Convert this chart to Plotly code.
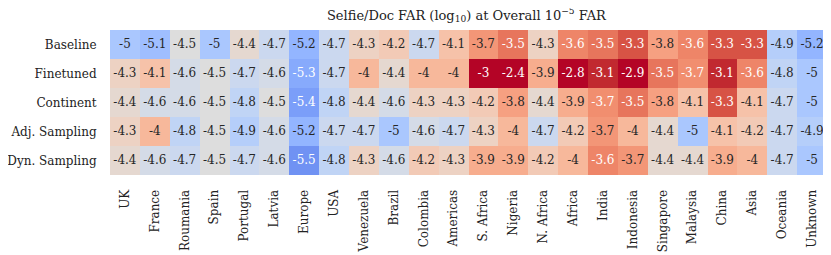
import plotly.graph_objects as go

regions = ["UK", "France", "Roumania", "Spain", "Portugal", "Latvia", "Europe", "USA",
           "Venezuela", "Brazil", "Colombia", "Americas", "S. Africa", "Nigeria", "N. Africa",
           "Africa", "India", "Indonesia", "Singapore", "Malaysia", "China", "Asia",
           "Oceania", "Unknown"]
methods = ["Baseline", "Finetuned", "Continent", "Adj. Sampling", "Dyn. Sampling"]

baseline = [-5.0, -5.1, -4.5, -5.0, -4.4, -4.7, -5.2, -4.7, -4.3, -4.2, -4.7, -4.1,
            -3.72, -3.5, -4.3, -3.6, -3.5, -3.3, -3.8, -3.6, -3.3, -3.3, -4.9, -5.2]
finetuned = [-4.3, -4.1, -4.6, -4.5, -4.7, -4.6, -5.3, -4.7, -4.0, -4.4, -4.0, -4.0,
             -3.0, -2.4, -3.9, -2.8, -3.1, -2.9, -3.5, -3.66, -3.1, -3.6, -4.8, -5.0]
continent = [-4.4, -4.6, -4.6, -4.5, -4.8, -4.5, -5.4, -4.8, -4.4, -4.6, -4.3, -4.3,
             -4.2, -3.8, -4.4, -3.9, -3.66, -3.5, -3.8, -4.1, -3.3, -4.1, -4.7, -5.0]
adj_sampling = [-4.3, -4.0, -4.8, -4.5, -4.9, -4.6, -5.2, -4.7, -4.7, -5.0, -4.6, -4.7,
                -4.3, -4.0, -4.7, -4.2, -3.72, -4.0, -4.4, -5.0, -4.1, -4.2, -4.7, -4.9]
dyn_sampling = [-4.4, -4.6, -4.7, -4.5, -4.7, -4.6, -5.5, -4.8, -4.3, -4.6, -4.2, -4.3,
                -3.9, -3.9, -4.2, -4.0, -3.6, -3.72, -4.4, -4.4, -3.9, -4.0, -4.7, -5.0]

rows = [baseline, finetuned, continent, adj_sampling, dyn_sampling]

coolwarm = [
    (59, 76, 192), (68, 90, 204), (77, 104, 215), (87, 117, 225), (98, 130, 234),
    (108, 142, 241), (119, 154, 247), (130, 165, 251), (141, 176, 254), (152, 185, 255),
    (163, 194, 255), (174, 201, 253), (184, 208, 249), (194, 213, 244), (204, 217, 238),
    (213, 219, 230), (221, 221, 221), (229, 216, 209), (236, 211, 197), (241, 204, 184),
    (245, 196, 172), (247, 187, 159), (247, 177, 147), (247, 166, 134), (244, 154, 123),
    (241, 141, 111), (236, 127, 99), (229, 112, 89), (222, 96, 77), (213, 80, 67),
    (203, 62, 56), (192, 40, 47), (180, 4, 38)]
n = len(coolwarm) - 1
colorscale = [[i / n, "rgb(%d,%d,%d)" % c] for i, c in enumerate(coolwarm)]

FONT = "DejaVu Serif"

fig = go.Figure()
fig.add_trace(go.Heatmap(
    z=rows, x=regions, y=methods, colorscale=colorscale, zmin=-6, zmax=-3,
    showscale=False, xgap=0, ygap=0, hoverinfo="skip"))

tx, ty, tt, tc = [], [], [], []
for m, row in zip(methods, rows):
    for r, v in zip(regions, row):
        tx.append(r)
        ty.append(m)
        tt.append(f"{round(v, 1):g}")
        tc.append("white" if (v > -3.7 or v < -5.25) else "#262626")

fig.add_trace(go.Scatter(
    x=tx, y=ty, text=tt, mode="text", textposition="middle center",
    textfont=dict(family=FONT, size=12, color=tc), hoverinfo="skip", showlegend=False))

# the page body adds an 8px margin, so the figure is sized to fit the window
fig.update_layout(
    width=823, height=247,
    margin=dict(l=102, r=4, t=22, b=80),
    paper_bgcolor="white", plot_bgcolor="white",
    font=dict(family=FONT, size=12, color="#222"),
    title=dict(text="Selfie/Doc FAR (log<sub>10</sub>) at Overall 10<sup>\u22125</sup> FAR",
               x=0.5570, xref="container", xanchor="center",
               y=1 - 7 / 247, yref="container", yanchor="middle",
               font=dict(family=FONT, size=13, color="#222")),
    showlegend=False,
)
fig.update_xaxes(showgrid=False, zeroline=False, showline=False, tickangle=-90,
                 automargin=False, range=[-0.5, len(regions) - 0.5],
                 ticks="outside", ticklen=9, tickcolor="rgba(0,0,0,0)",
                 tickfont=dict(family=FONT, size=12, color="#222"))
fig.update_yaxes(showgrid=False, zeroline=False, showline=False,
                 automargin=False, range=[len(methods) - 0.5, -0.5],
                 ticks="outside", ticklen=10, tickcolor="rgba(0,0,0,0)",
                 tickfont=dict(family=FONT, size=12, color="#222"))

fig.write_html("out.html")
